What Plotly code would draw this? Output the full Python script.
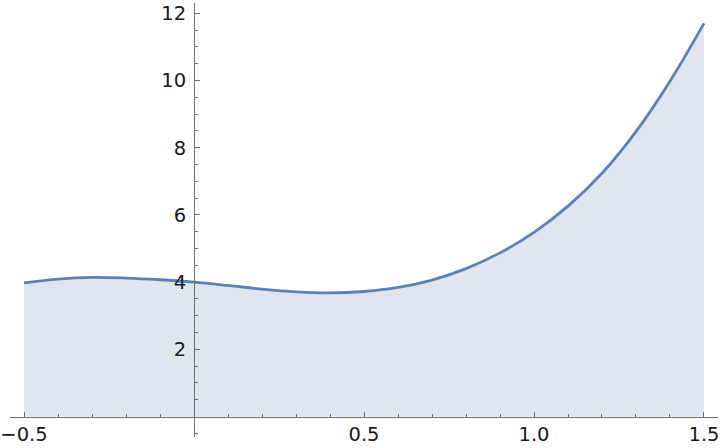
import plotly.graph_objects as go

# Curve samples
x_vals = [-0.5, -0.4, -0.3, -0.2, -0.1, 0.0, 0.1, 0.2, 0.3, 0.4, 0.5,
          0.6, 0.7, 0.8, 0.9, 1.0, 1.1, 1.2, 1.3, 1.4, 1.5]
y_vals = [3.98, 4.09, 4.14, 4.12, 4.07, 4.00, 3.90, 3.79, 3.71, 3.68, 3.72,
          3.84, 4.06, 4.40, 4.87, 5.48, 6.26, 7.24, 8.48, 9.98, 11.70]

x_tick_vals = [-0.5, 0.5, 1.0, 1.5]
x_tick_text = ["\u22120.5", "0.5", "1.0", "1.5"]
y_tick_vals = [2, 4, 6, 8, 10, 12]
y_tick_text = ["2", "4", "6", "8", "10", "12"]

x_minor = [round(-0.5 + 0.1 * i, 2) for i in range(21)]
x_minor = [v for v in x_minor if v not in x_tick_vals and abs(v) > 1e-9]
y_minor = [-0.5 + 0.5 * i for i in range(26)]
y_minor = [v for v in y_minor if v not in y_tick_vals and v != 0]

W, H = 720, 448
x_range = [-0.5412, 1.5412]
y_range = [-0.610, 12.307]
x_dom = [10 / W, 718 / W]
y_dom = [(H - 437) / H, (H - 3) / H]

ypos = x_dom[0] + (0 - x_range[0]) / (x_range[1] - x_range[0]) * (x_dom[1] - x_dom[0])
xpos = y_dom[0] + (0 - y_range[0]) / (y_range[1] - y_range[0]) * (y_dom[1] - y_dom[0])

line_col = "#5e81b5"
fill_col = "rgba(94,129,181,0.2)"
axis_col = "#6e6e6e"
font = dict(family="DejaVu Sans", size=19.5, color="#1a1a1a")

fig = go.Figure()
fig.add_trace(go.Scatter(
    x=x_vals, y=y_vals, mode="lines",
    line=dict(color=line_col, width=2.8, shape="spline", smoothing=1.0),
    fill="tozeroy", fillcolor=fill_col, hoverinfo="skip"))

fig.update_layout(
    width=W, height=H, margin=dict(l=0, r=0, t=0, b=0),
    paper_bgcolor="white", plot_bgcolor="white", showlegend=False,
    xaxis=dict(range=x_range, domain=x_dom, anchor="free", position=xpos,
               showgrid=False, zeroline=False, showline=True,
               linecolor=axis_col, linewidth=1,
               tickmode="array", tickvals=x_tick_vals, ticktext=x_tick_text,
               ticks="inside", ticklen=5, tickcolor=axis_col, tickwidth=1,
               minor=dict(tickmode="array", tickvals=x_minor, ticks="inside",
                          ticklen=3, tickcolor=axis_col, tickwidth=1),
               tickfont=font, automargin=False),
    yaxis=dict(range=y_range, domain=y_dom, anchor="free", position=ypos,
               showgrid=False, zeroline=False, showline=True,
               linecolor=axis_col, linewidth=1,
               tickmode="array", tickvals=y_tick_vals, ticktext=y_tick_text,
               ticks="inside", ticklen=5, tickcolor=axis_col, tickwidth=1,
               minor=dict(tickmode="array", tickvals=y_minor, ticks="inside",
                          ticklen=3, tickcolor=axis_col, tickwidth=1),
               ticklabelstandoff=4,
               tickfont=font, automargin=False),
)

fig.write_html("out.html",
               config={"displayModeBar": False, "staticPlot": True},
               post_script="document.body.style.margin='0';"
                           "document.body.style.overflow='hidden';")
